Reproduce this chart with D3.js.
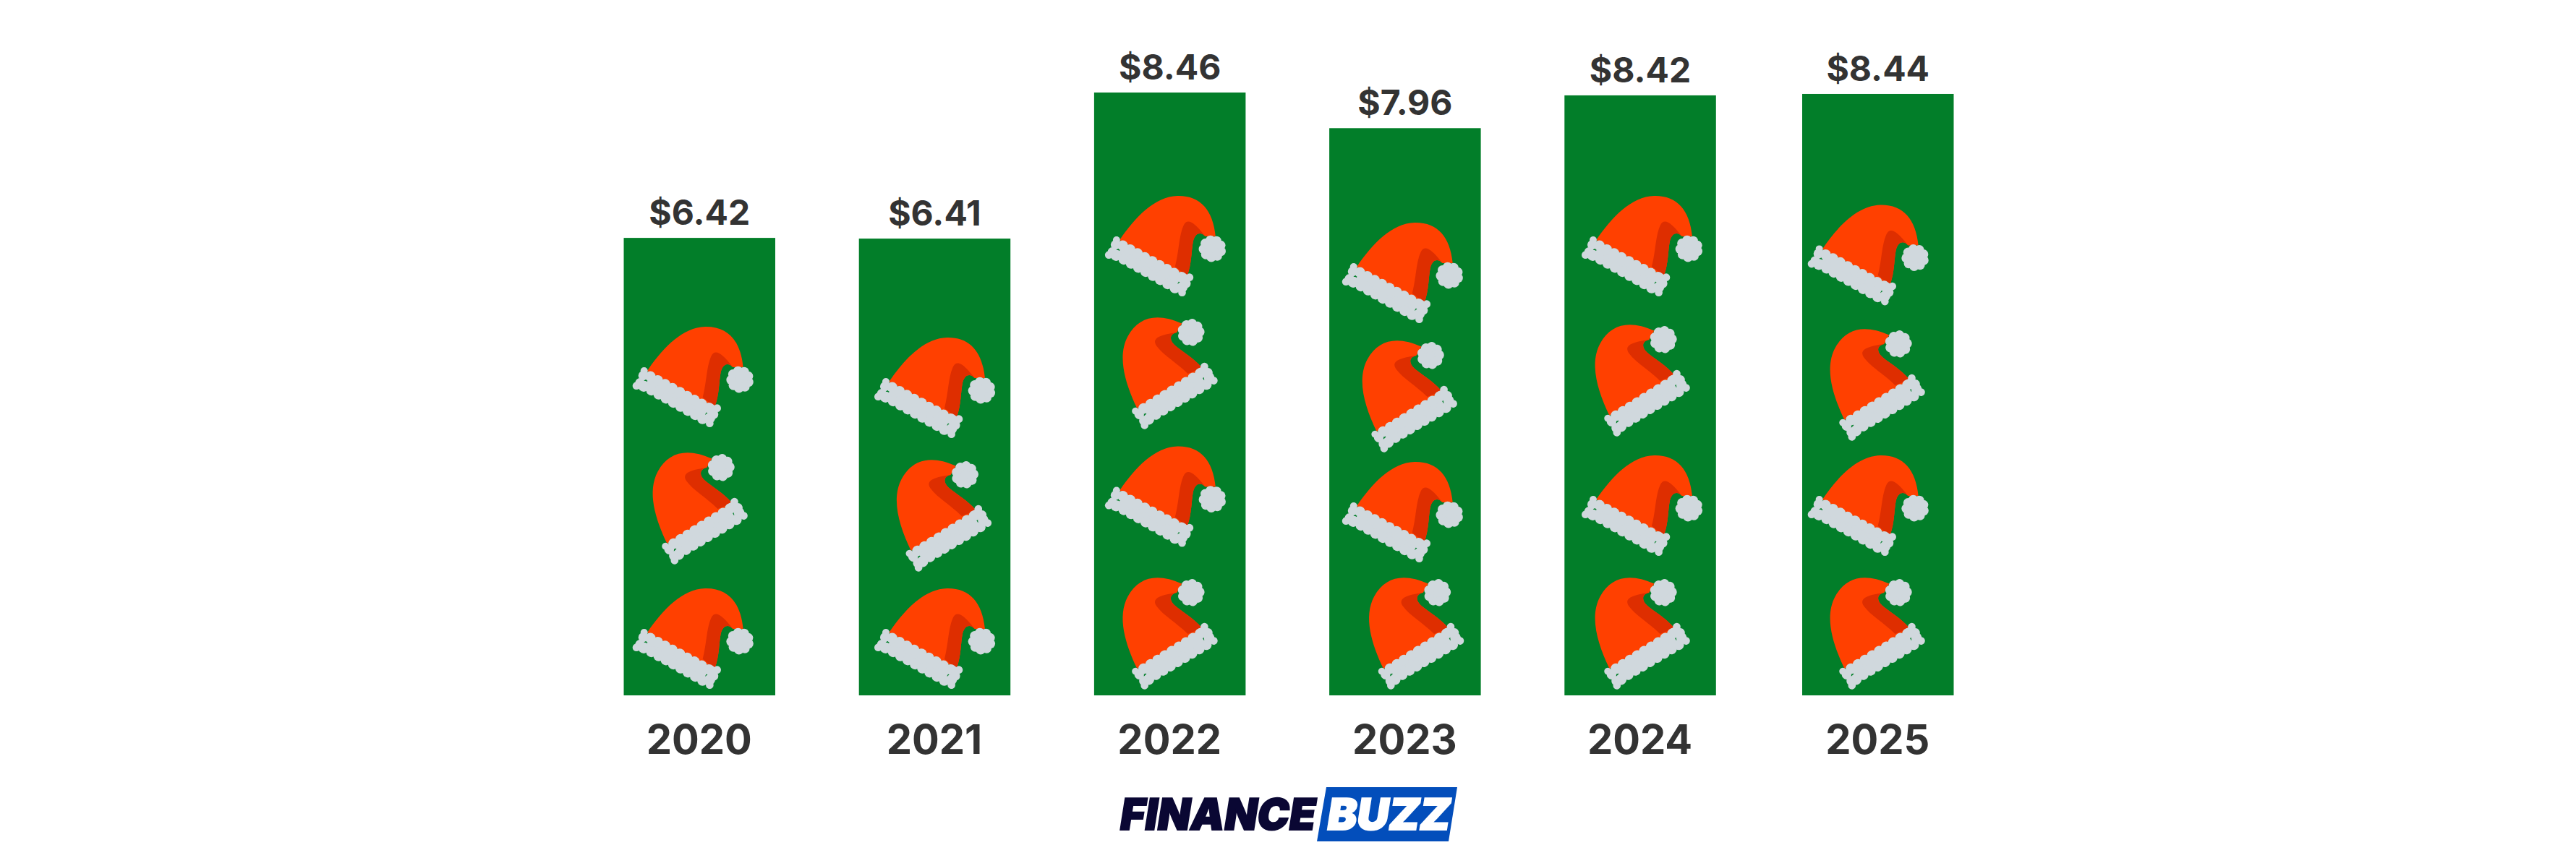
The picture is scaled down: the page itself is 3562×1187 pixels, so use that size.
<!DOCTYPE html>
<html>
<head>
<meta charset="utf-8">
<style>
    html, body { margin: 0; padding: 0; background: #fff; }
    svg { display: block; }
</style>
</head>
<body>
<div id="wrapper"></div>
<script src="https://cdn.jsdelivr.net/npm/d3@7"></script>
<script>
const years = [2020, 2021, 2022, 2023, 2024, 2025];
const spending = [6.42, 6.41, 8.46, 7.96, 8.42, 8.44];
// hats stacked in each bar, top to bottom. A = pom to the right, B = pom on top
const hatPoses = [
    ["A", "B", "A"],
    ["A", "B", "A"],
    ["A", "B", "A", "B"],
    ["A", "B", "A", "B"],
    ["A", "B", "A", "B"],
    ["A", "B", "A", "B"]
];

// decoration layout, px from the bar's left edge and px above the baseline
const hatInset = [
    [12.5, 38.5, 12.5],
    [21.6, 50.6, 21.6],
    [15.3, 38, 15.3, 38],
    [18, 44, 18, 53.4],
    [24, 40.7, 24, 40.7],
    [8, 37, 8, 37]
];
const hatRise = [
    [510, 338, 148],
    [495, 328, 148],
    [691, 525, 344.5, 165],
    [654, 493, 323, 165],
    [691, 515, 332, 165],
    [678.6, 509, 332, 165]
];

const dimension = { width: 3562, height: 1187, barWidth: 209.5, baseline: 962 };

const svg = d3.select("#wrapper").append("svg")
    .attr("width", dimension.width)
    .attr("height", dimension.height);

svg.append("rect")
    .attr("width", dimension.width)
    .attr("height", dimension.height)
    .attr("fill", "#fff");

// bars are not quite evenly spaced in the original, last gap is a bit wider
const xScaler = d3.scaleLinear()
    .domain([2020, 2024, 2025])
    .range([862.5, 2163.3, 2492]);
const yScaler = d3.scaleLinear()
    .domain([0, 8.46])
    .range([dimension.baseline, 128]);

const fontFamily = "Inter, 'Liberation Sans', sans-serif";
const formatMoney = d3.format("$.2f");

const rows = years.map((year, i) => ({ year: year, value: spending[i], poses: hatPoses[i], inset: hatInset[i], rise: hatRise[i] }));

svg.selectAll(".bar")
    .data(rows)
    .join("rect")
    .attr("class", "bar")
    .attr("x", d => xScaler(d.year))
    .attr("y", d => yScaler(d.value))
    .attr("width", dimension.barWidth)
    .attr("height", d => yScaler(0) - yScaler(d.value))
    .attr("fill", "#027e29");

svg.selectAll(".value")
    .data(rows)
    .join("text")
    .attr("class", "value")
    .attr("x", d => xScaler(d.year) + dimension.barWidth / 2)
    .attr("y", d => yScaler(d.value) - 18)
    .attr("text-anchor", "middle")
    .attr("font-family", fontFamily)
    .attr("font-weight", 700)
    .attr("font-size", 48)
    .attr("fill", "#333")
    .text(d => formatMoney(d.value));

const xAxisGenerator = d3.axisBottom(xScaler)
    .tickValues(years)
    .tickFormat(d3.format("d"))
    .tickSize(0)
    .tickPadding(0);

const xAxis = svg.append("g")
    .attr("transform", `translate(${dimension.barWidth / 2 - 1},${dimension.baseline + 41})`)
    .call(xAxisGenerator);
xAxis.select(".domain").remove();
xAxis.selectAll("text")
    .attr("font-family", fontFamily)
    .attr("font-weight", 700)
    .attr("font-size", 56)
    .attr("fill", "#333");

// the hat icon, drawn at 3x and scaled down
const trimTop = d3.range(9).map(i => [178 + i * 30.4, 308.5 + i * 16.3]);
const trimBottom = d3.range(9).map(i => [152 + i * 30.3, 348.5 + i * 17]);
const trimExtra = [[152, 285, 15], [120, 347, 16], [148, 305, 20], [135, 335, 20], [150, 350, 22],
    [455, 440, 16], [424, 503, 16], [430, 445, 22], [425, 480, 22], [440, 465, 20]];
const pomBumps = d3.range(9).map(i => {
    const angle = i / 9 * 2 * Math.PI + 0.3;
    return [550 + 37 * Math.cos(angle), 321 + 36 * Math.sin(angle)];
});

function drawHat(selection) {
    const icon = selection.append("g")
        .attr("transform", "scale(0.3333) translate(-105,-102)");
    icon.append("path")
        .attr("fill", "#ff4000")
        .attr("d", "M165,285 C230,190 310,105 405,102 C500,100 552,160 563,270 L520,270 C505,252 480,250 470,290 C462,330 465,380 445,435 Z");
    icon.append("path")
        .attr("fill", "#de2e00")
        .attr("d", "M395,395 C412,330 410,270 430,225 C445,195 470,205 520,270 C505,252 480,250 470,290 C462,330 465,380 445,435 Z");
    const trim = icon.append("g").attr("fill", "#d0d8dd");
    trim.append("polygon")
        .attr("points", [trimTop[0], trimTop[8], trimBottom[8], trimBottom[0]].join(" "));
    trim.selectAll(".scallop")
        .data(trimTop.concat(trimBottom).map(p => [p[0], p[1], 22]).concat(trimExtra))
        .join("circle")
        .attr("cx", d => d[0])
        .attr("cy", d => d[1])
        .attr("r", d => d[2]);
    const pom = icon.append("g").attr("fill", "#d0d8dd");
    pom.append("circle").attr("cx", 550).attr("cy", 321).attr("r", 40);
    pom.selectAll(".bump")
        .data(pomBumps)
        .join("circle")
        .attr("cx", d => d[0])
        .attr("cy", d => d[1])
        .attr("r", 20);
}

rows.forEach(row => {
    row.poses.forEach((pose, i) => {
        const left = xScaler(row.year) + row.inset[i];
        const top = yScaler(0) - row.rise[i];
        const hat = svg.append("g").attr("class", "hat");
        if (pose === "A") {
            hat.attr("transform", `translate(${left},${top})`);
        } else {
            hat.attr("transform", `translate(${left - 41.4},${top + 114.8}) rotate(-60)`);
        }
        hat.call(drawHat);
    });
});

// logo
const logo = svg.append("g");
logo.append("polygon")
    .attr("points", "1834,1089 2015,1089 2003,1164 1821,1164")
    .attr("fill", "#034ebb");
logo.append("text")
    .attr("transform", "translate(1546.5,1148) skewX(-9)")
    .attr("font-family", fontFamily)
    .attr("font-weight", 900)
    .attr("font-size", 60)
    .attr("textLength", 270)
    .attr("lengthAdjust", "spacingAndGlyphs")
    .attr("fill", "#0a0733")
    .attr("stroke", "#0a0733")
    .attr("stroke-width", 2)
    .text("FINANCE");
logo.append("text")
    .attr("transform", "translate(1833,1148) skewX(-9)")
    .attr("font-family", fontFamily)
    .attr("font-weight", 900)
    .attr("font-size", 60)
    .attr("textLength", 170)
    .attr("lengthAdjust", "spacingAndGlyphs")
    .attr("fill", "#fff")
    .attr("stroke", "#fff")
    .attr("stroke-width", 2)
    .text("BUZZ");
</script>
</body>
</html>
